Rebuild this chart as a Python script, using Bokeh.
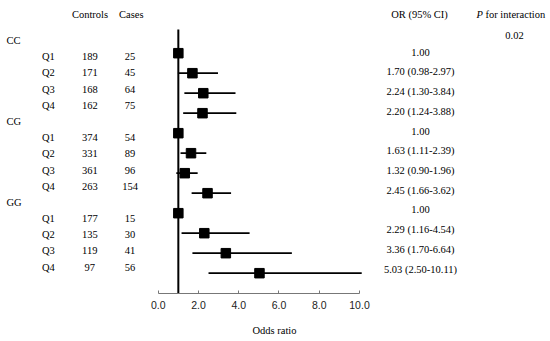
from bokeh.plotting import figure
from bokeh.models import ColumnDataSource, Range1d, FixedTicker, NumeralTickFormatter
from bokeh.core.properties import value
from bokeh.embed import file_html
from bokeh.resources import INLINE

# ---------------- data ----------------
groups = ["CC", "CG", "GG"]
quartiles = ["Q1", "Q2", "Q3", "Q4"]
controls = [189, 171, 168, 162, 374, 331, 361, 263, 177, 135, 119, 97]
cases = [25, 45, 64, 75, 54, 89, 96, 154, 15, 30, 41, 56]
odds = [1.00, 1.70, 2.24, 2.20, 1.00, 1.63, 1.32, 2.45, 1.00, 2.29, 3.36, 5.03]
ci_low = [1.00, 0.98, 1.30, 1.24, 1.00, 1.11, 0.90, 1.66, 1.00, 1.16, 1.70, 2.50]
ci_high = [1.00, 2.97, 3.84, 3.88, 1.00, 2.39, 1.96, 3.62, 1.00, 4.54, 6.64, 10.11]
p_interaction = "0.02"
x_ticks = [0, 2, 4, 6, 8, 10]

# ---------------- layout helpers (canvas pixels -> data) ----------------
W, H = 548, 338
X0_PAGE, PX_PER_UNIT = 157.7, 20.13
ROW0_PAGE, ROW_STEP = 52.7, 20.0
FRAME_TOP, FRAME_BOTTOM = 0, 293

def px(xp):
    return (xp - X0_PAGE) / PX_PER_UNIT

def py(yp):
    return (yp - ROW0_PAGE) / ROW_STEP

SERIF = value("Liberation Serif")
FS = "10.5px"

p = figure(width=W, height=H, output_backend="svg", toolbar_location=None,
           x_range=Range1d(px(0), px(W)),
           y_range=Range1d(py(FRAME_BOTTOM), py(FRAME_TOP)),
           y_axis_location=None,
           min_border_left=0, min_border_right=0, min_border_top=0,
           min_border_bottom=H - FRAME_BOTTOM)
p.xgrid.visible = False
p.ygrid.visible = False
p.outline_line_color = None
p.background_fill_color = "white"
p.border_fill_color = "white"

rows = list(range(len(odds)))

# reference line at OR = 1
p.segment(x0=[1], y0=[py(29)], x1=[1], y1=[py(FRAME_BOTTOM)], line_color="black", line_width=2)

# CI lines and squares
src = ColumnDataSource(dict(y=rows, odds=odds, lo=ci_low, hi=ci_high))
p.segment(x0="lo", y0="y", x1="hi", y1="y", source=src, line_color="black", line_width=1.8)
p.scatter(x="odds", y="y", source=src, marker="square", size=9.5,
          fill_color="black", line_color="black")

# x axis
ax = p.xaxis[0]
ax.ticker = FixedTicker(ticks=x_ticks)
ax.formatter = NumeralTickFormatter(format="0.0")
ax.bounds = (0, 10)
ax.axis_line_color = "#777777"
ax.major_tick_line_color = "#777777"
ax.major_tick_in = 3
ax.major_tick_out = 0
ax.minor_tick_line_color = None
ax.major_label_text_font = "Liberation Sans"
ax.major_label_text_font_size = "10.5px"
ax.major_label_text_color = "#222222"
ax.major_label_standoff = 7
ax.axis_label = "Odds ratio"
ax.axis_label_text_font = "Liberation Serif"
ax.axis_label_text_font_style = "normal"
ax.axis_label_text_font_size = FS
ax.axis_label_text_color = "black"
ax.axis_label_standoff = 13

# ---------------- table text ----------------
TBL0, TBL_STEP = 40.0, 16.19
grp_x, grp_y, grp_t = [], [], []
q_x, q_y, q_t = [], [], []
ctl_y, ctl_t, cas_t = [], [], []
j = 0
for gi, g in enumerate(groups):
    grp_y.append(py(TBL0 + TBL_STEP * j)); grp_t.append(g); grp_x.append(px(6))
    j += 1
    for qi, q in enumerate(quartiles):
        k = gi * 4 + qi
        yy = py(TBL0 + TBL_STEP * j)
        q_y.append(yy); q_t.append(q); q_x.append(px(41.5))
        ctl_y.append(yy); ctl_t.append(str(controls[k])); cas_t.append(str(cases[k]))
        j += 1

def txt(xs, ys, ts, align="left", style="normal"):
    s = ColumnDataSource(dict(x=xs, y=ys, t=ts))
    p.text(x="x", y="y", text="t", source=s, text_font=SERIF, text_font_size=FS,
           text_align=align, text_baseline="middle", text_color="black",
           text_font_style=style)

txt(grp_x, grp_y, grp_t)
txt(q_x, q_y, q_t)
txt([px(89.3)] * len(ctl_y), ctl_y, ctl_t, align="center")
txt([px(129.5)] * len(ctl_y), ctl_y, cas_t, align="center")

# headers
txt([px(89.5), px(130.8), px(419)], [py(13.5)] * 3,
    ["Controls", "Cases", "OR (95% CI)"], align="center")
txt([px(476)], [py(13.5)], ["P"], style="italic")
txt([px(485)], [py(13.5)], ["for interaction"])
txt([px(514)], [py(34.5)], [p_interaction], align="center")

# OR (95% CI) strings
or_t = []
for o, lo, hi in zip(odds, ci_low, ci_high):
    if lo == hi == o:
        or_t.append(f"{o:.2f}")
    else:
        or_t.append(f"{o:.2f} ({lo:.2f}-{hi:.2f})")
or_y = [py(51.7 + 19.72 * k) for k in rows]
txt([px(420)] * len(rows), or_y, or_t, align="center")

open("out.html", "w").write(file_html(p, INLINE))
